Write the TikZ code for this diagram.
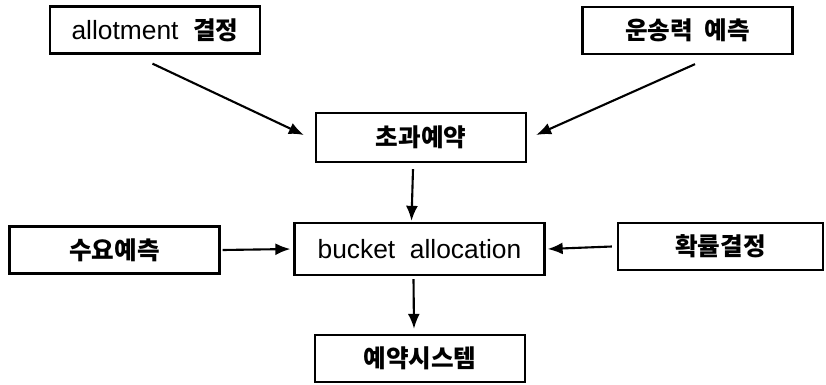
\documentclass[tikz,border=0pt]{standalone}
\usepackage{fontspec}
\setmainfont{Liberation Sans}
\newfontfamily\kr{Noto Sans CJK KR}
\newcommand{\ko}[1]{{\kr\bfseries\fontsize{14}{17}\selectfont #1}}
\usetikzlibrary{arrows.meta}
\tikzstyle{every node}=[font=\fontsize{15}{18}\selectfont]
\tikzstyle{box} = [rectangle, minimum width=4.2cm, minimum height=0.94cm, text centered, draw=black, line width=1.3pt]
\tikzstyle{bigbox} = [box, minimum width=5cm, minimum height=1.04cm]
\tikzstyle{arrow} = [line width=1.2pt,->,>={Latex[length=3mm,width=2.4mm]}]

\begin{document}
\begin{tikzpicture}
        \useasboundingbox (0,0) rectangle (16.52,-7.68);
        \node (allot) [box, xshift=3.1cm, yshift=-0.6cm] {allotment\ \ \ko{결정}};
        \node (capa) [box, xshift=13.75cm, yshift=-0.61cm] {\ko{운송력\ \ 예측}};
        \node (overbook) [box, minimum height=0.98cm, xshift=8.42cm, yshift=-2.75cm] {\ko{초과예약}};

        \node (demand) [box, xshift=2.29cm, yshift=-5cm] {\ko{수요예측}};
        \node (bucket) [bigbox, xshift=8.39cm, yshift=-4.98cm] {bucket\ \ allocation};
        \node (prob) [box, minimum width=4.1cm, xshift=14.41cm, yshift=-4.93cm] {\ko{확률결정}};

        \node (resv) [box, xshift=8.4cm, yshift=-7.17cm] {\ko{예약시스템}};

        \draw [arrow] ([xshift=-0.05cm, yshift=-0.18cm]allot.south) -- ([xshift=-0.22cm, yshift=0.05cm]overbook.west);
        \draw [arrow] ([xshift=0.15cm, yshift=-0.18cm]capa.south) -- ([xshift=0.18cm, yshift=0.05cm]overbook.east);
        \draw [arrow] ([xshift=-0.16cm, yshift=-0.12cm]overbook.south) -- ([xshift=-0.16cm, yshift=0.02cm]bucket.north);
        \draw [arrow] ([xshift=0.04cm]demand.east) -- ([xshift=-0.06cm]bucket.west);
        \draw [arrow] ([xshift=-0.1cm]prob.west) -- ([xshift=0.04cm]bucket.east);
        \draw [arrow] ([xshift=-0.12cm, yshift=-0.06cm]bucket.south) -- ([xshift=-0.12cm, yshift=0.1cm]resv.north);
      \end{tikzpicture}
\end{document}
